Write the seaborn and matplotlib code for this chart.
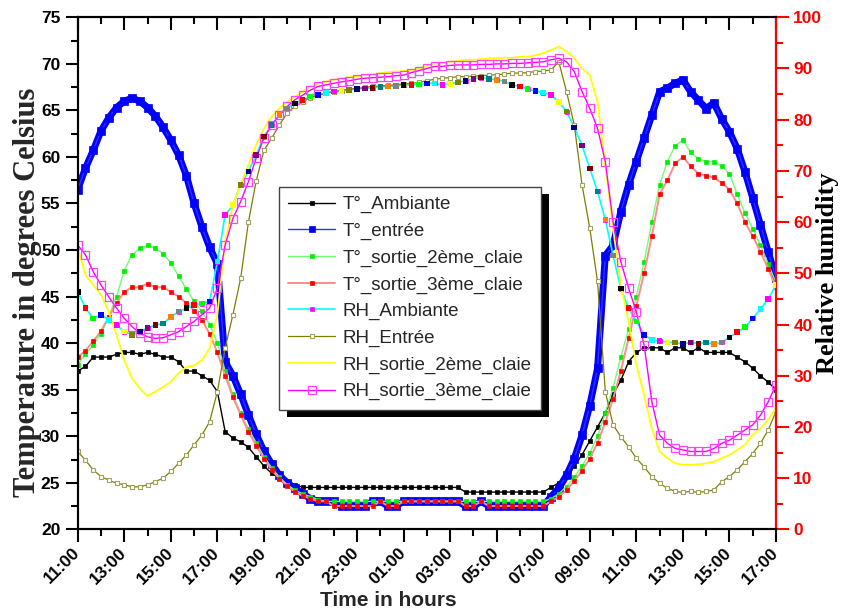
import numpy as np
import pandas as pd
import matplotlib
matplotlib.use("Agg")
import matplotlib.pyplot as plt
from matplotlib.ticker import MultipleLocator
from matplotlib.patches import Rectangle
import seaborn as sns

# ---------------------------------------------------------------- data
# readings every 20 minutes, from 11:00 on day 1 to 17:00 on day 2
elapsed_h = np.arange(91) / 3.0

tick_hours = list(range(0, 31, 2))
tick_labels = ["11:00", "13:00", "15:00", "17:00", "19:00", "21:00", "23:00", "01:00",
               "03:00", "05:00", "07:00", "09:00", "11:00", "13:00", "15:00", "17:00"]

# temperatures (deg C)
t_ambiante = [37.0, 37.5, 38.5, 38.5, 38.5, 38.8, 39.0, 39.0, 38.8, 39.0,
              38.8, 38.5, 38.5, 38.0, 37.0, 37.0, 36.5, 36.0, 34.8, 30.5,
              29.8, 29.4, 28.8, 27.8, 26.8, 26.0, 25.5, 25.0, 24.8, 24.5,
              24.5, 24.5, 24.5, 24.5, 24.5, 24.5, 24.5, 24.5, 24.5, 24.5,
              24.5, 24.5, 24.5, 24.5, 24.5, 24.5, 24.5, 24.5, 24.5, 24.5,
              24.0, 24.0, 24.0, 24.0, 24.0, 24.0, 24.0, 24.0, 24.0, 24.0,
              24.0, 24.5, 25.0, 25.8, 26.8, 28.0, 29.5, 31.0, 32.5, 34.5,
              36.0, 38.0, 39.0, 39.5, 39.5, 39.5, 39.0, 39.5, 39.5, 39.0,
              39.5, 39.0, 39.0, 39.0, 39.0, 38.5, 38.0, 37.3, 36.5, 35.8,
              35.0]
t_entree = [56.5, 58.8, 60.7, 62.8, 64.2, 65.3, 66.0, 66.3, 66.0, 65.3,
            64.4, 63.2, 61.8, 60.2, 58.0, 55.0, 52.5, 50.3, 48.5, 38.0,
            36.5, 34.5, 32.3, 30.2, 28.4, 27.0, 25.8, 25.0, 24.4, 23.8,
            23.3, 23.0, 23.0, 23.0, 22.5, 22.5, 22.5, 22.5, 23.0, 23.0,
            22.5, 22.5, 23.0, 23.0, 23.0, 23.0, 23.0, 23.0, 23.0, 23.0,
            22.5, 22.5, 23.0, 22.5, 22.5, 22.5, 22.5, 22.5, 22.5, 22.5,
            22.5, 23.5, 24.4, 25.8, 27.6, 30.1, 33.3, 37.3, 49.4, 50.5,
            54.1, 57.0, 59.5, 62.0, 64.5, 67.0, 67.4, 67.9, 68.3, 67.0,
            66.1, 65.2, 65.8, 64.1, 62.7, 60.9, 58.4, 55.6, 52.7, 49.8,
            47.0]
t_sortie_2 = [37.7, 38.8, 39.8, 41.0, 42.8, 45.0, 47.8, 49.5, 50.2, 50.5,
              50.2, 49.6, 48.6, 47.2, 45.8, 44.5, 43.4, 42.0, 40.0, 37.0,
              34.5, 32.5, 30.8, 29.3, 27.8, 26.6, 25.6, 24.8, 24.2, 23.8,
              23.5, 23.2, 23.0, 23.0, 23.0, 23.0, 23.0, 23.0, 23.0, 23.0,
              23.0, 23.0, 23.0, 23.0, 23.0, 23.0, 23.0, 23.0, 23.0, 23.0,
              23.0, 23.0, 23.0, 23.0, 23.0, 23.0, 23.0, 23.0, 23.0, 23.0,
              23.0, 23.3, 23.8, 24.6, 25.6, 26.8, 28.2, 30.0, 32.5, 35.2,
              38.5, 41.5, 45.0, 48.7, 53.0, 57.0, 59.5, 61.2, 61.8, 60.5,
              59.8, 59.5, 59.5, 59.0, 58.2, 56.0, 54.0, 52.3, 50.5, 48.5,
              46.5]
t_sortie_3 = [38.5, 39.2, 40.2, 41.3, 42.8, 44.3, 45.5, 46.0, 46.0, 46.4,
              46.0, 46.0, 45.5, 45.0, 44.3, 43.5, 42.5, 41.0, 39.0, 36.5,
              34.2, 32.3, 30.5, 29.0, 27.6, 26.4, 25.4, 24.7, 24.0, 23.6,
              23.3, 23.0, 23.0, 22.5, 22.5, 22.5, 22.5, 22.5, 22.5, 23.0,
              22.5, 22.5, 23.0, 23.0, 23.0, 23.0, 23.0, 23.0, 23.0, 23.0,
              22.5, 22.5, 23.0, 22.5, 22.5, 22.5, 22.5, 22.5, 22.5, 22.5,
              22.5, 23.0, 23.5, 24.2, 25.2, 26.3, 27.6, 29.3, 31.5, 34.0,
              37.0, 40.5, 44.0, 47.5, 51.5, 56.0, 57.5, 59.3, 60.0, 59.0,
              58.2, 58.0, 57.8, 57.2, 56.5, 55.0, 53.0, 51.5, 49.8, 48.0,
              46.0]

# relative humidity (%)
rh_ambiante = [46.4, 43.2, 41.2, 41.9, 40.9, 39.9, 38.6, 38.0, 38.6, 39.3,
               39.9, 40.2, 41.5, 42.5, 43.2, 43.8, 44.1, 44.5, 52.3, 61.4,
               63.3, 67.3, 69.9, 73.1, 76.7, 79.0, 80.9, 82.2, 83.2, 83.9,
               84.5, 84.8, 85.2, 85.5, 85.6, 85.8, 86.0, 86.1, 86.2, 86.4,
               86.5, 86.6, 86.8, 86.8, 86.9, 87.1, 87.1, 86.8, 87.0, 87.3,
               87.6, 88.0, 88.2, 88.0, 87.8, 87.5, 86.8, 86.5, 86.0, 85.6,
               85.3, 84.8, 83.5, 81.6, 78.5, 75.0, 70.5, 66.0, 60.5, 53.5,
               47.0, 43.2, 40.6, 38.0, 37.0, 36.8, 36.5, 36.5, 36.2, 36.5,
               36.3, 36.5, 36.2, 36.5, 37.5, 38.5, 39.5, 41.2, 43.0, 45.0,
               47.7]
rh_entree = [15.2, 13.5, 11.6, 10.3, 9.6, 9.0, 8.7, 8.3, 8.3, 8.7,
             9.3, 10.0, 11.3, 12.9, 14.5, 16.5, 18.4, 21.0, 26.9, 35.4,
             41.9, 49.0, 60.0, 68.0, 74.0, 76.4, 79.0, 81.3, 82.6, 83.5,
             84.3, 84.8, 85.2, 85.5, 85.7, 86.0, 86.1, 86.3, 86.5, 86.6,
             86.7, 86.8, 87.0, 87.1, 87.3, 87.6, 87.9, 88.1, 88.2, 88.4,
             88.4, 88.5, 88.6, 88.7, 88.8, 88.9, 89.1, 89.1, 89.2, 89.4,
             89.5, 89.7, 91.3, 85.5, 79.0, 67.3, 58.8, 48.4, 26.9, 20.4,
             18.1, 16.1, 13.9, 12.2, 10.3, 9.0, 8.0, 7.4, 7.2, 7.4,
             7.2, 7.4, 7.7, 9.3, 10.3, 11.6, 13.2, 14.8, 16.8, 19.4,
             23.0]
rh_sortie_2 = [55.0, 49.7, 47.7, 45.8, 42.5, 38.0, 33.0, 29.5, 27.5, 26.0,
               26.9, 27.8, 28.8, 30.5, 31.7, 32.0, 33.0, 35.4, 41.9, 56.2,
               63.3, 67.3, 71.2, 75.1, 78.3, 80.6, 82.2, 83.5, 84.5, 85.5,
               86.5, 87.1, 87.4, 87.8, 88.1, 88.3, 88.5, 88.7, 88.9, 89.1,
               89.3, 89.4, 89.5, 89.7, 90.0, 90.5, 91.0, 91.0, 91.3, 91.5,
               91.7, 91.7, 91.8, 92.0, 92.0, 92.1, 92.1, 92.3, 92.3, 92.6,
               93.0, 93.6, 94.3, 93.3, 92.0, 90.0, 88.7, 83.5, 71.2, 58.8,
               47.7, 40.6, 32.1, 26.2, 19.7, 15.2, 13.9, 12.9, 12.6, 12.6,
               12.7, 12.9, 13.2, 13.9, 14.5, 15.5, 16.5, 18.4, 19.7, 21.4,
               23.6]
rh_sortie_3 = [55.5, 53.6, 50.3, 47.7, 45.4, 43.2, 41.2, 39.6, 38.3, 37.6,
               37.3, 37.4, 38.0, 38.6, 39.6, 40.6, 41.9, 43.2, 47.1, 55.5,
               60.7, 64.0, 67.9, 72.5, 76.4, 79.0, 80.9, 82.6, 83.9, 84.8,
               85.8, 86.5, 86.8, 87.1, 87.4, 87.6, 87.9, 88.1, 88.2, 88.3,
               88.4, 88.6, 88.7, 89.2, 89.6, 90.0, 90.4, 90.4, 90.6, 90.7,
               90.7, 90.7, 90.8, 90.8, 90.9, 90.9, 91.0, 91.0, 91.1, 91.2,
               91.3, 91.7, 92.0, 91.3, 89.4, 85.5, 82.2, 78.3, 71.8, 60.1,
               52.3, 47.1, 42.5, 36.0, 24.9, 18.4, 16.8, 15.8, 15.5, 15.2,
               15.2, 15.2, 15.8, 16.8, 17.4, 18.4, 19.4, 20.4, 22.3, 24.9,
               28.2]

# point colours cycled on the ambient-humidity symbols
point_colors = ["#000000", "#ff0000", "#00ff00", "#0000ff", "#00ffff", "#ff00ff",
                "#ffff00", "#808000", "#000080", "#800080", "#800000", "#008080",
                "#ff8000", "#808080"]

# ---------------------------------------------------------------- style
sns.set_theme(style="ticks", rc={
    "axes.edgecolor": "black",
    "axes.linewidth": 1.5,
    "xtick.color": "black",
    "ytick.color": "black",
})
plt.rcParams["font.family"] = ["Liberation Sans", "DejaVu Sans"]

fig = plt.figure(figsize=(8.43, 6.13), dpi=100, facecolor="white")
ax = fig.add_axes([0.0922, 0.1365, 0.8283, 0.8353])
ax2 = ax.twinx()

# ---------------------------------------------------------------- temperatures
sns.lineplot(x=elapsed_h, y=t_ambiante, ax=ax, color="black", linewidth=1.0,
             marker="s", markersize=2.6, markerfacecolor="black",
             markeredgecolor="black", markeredgewidth=0.5, label="T°_Ambiante")
# dense inlet-temperature symbols merge into a solid band
sns.lineplot(x=elapsed_h, y=t_entree, ax=ax, color="#0000ff", linewidth=5.0,
             solid_capstyle="butt")
sns.lineplot(x=elapsed_h, y=t_entree, ax=ax, color="#3030ff", linewidth=1.0,
             marker="s", markersize=5.2, markerfacecolor="#0000ff",
             markeredgecolor="#0000ff", markeredgewidth=0.5, label="T°_entrée")
sns.lineplot(x=elapsed_h, y=t_sortie_2, ax=ax, color="#70ff70", linewidth=1.0,
             marker="s", markersize=3.2, markerfacecolor="#00ee00",
             markeredgecolor="#00ee00", markeredgewidth=0.5,
             label="T°_sortie_2ème_claie")
sns.lineplot(x=elapsed_h, y=t_sortie_3, ax=ax, color="#ff8c8c", linewidth=1.4,
             marker="s", markersize=3.2, markerfacecolor="#ff0000",
             markeredgecolor="#ff0000", markeredgewidth=0.5,
             label="T°_sortie_3ème_claie")

# ---------------------------------------------------------------- humidity
sns.lineplot(x=elapsed_h, y=rh_ambiante, ax=ax2, color="#00ffff", linewidth=1.2,
             marker="s", markersize=2.6, markerfacecolor="#ff00ff",
             markeredgecolor="#ff00ff", markeredgewidth=0.5, label="RH_Ambiante")
color_key = [f"c{i % len(point_colors)}" for i in range(len(elapsed_h))]
sns.scatterplot(x=elapsed_h, y=rh_ambiante, ax=ax2, hue=color_key,
                palette={f"c{i}": c for i, c in enumerate(point_colors)},
                marker="s", s=16, linewidth=0, legend=False, zorder=3)
sns.lineplot(x=elapsed_h, y=rh_entree, ax=ax2, color="#808000", linewidth=0.9,
             marker="s", markersize=3.2, markerfacecolor="white",
             markeredgecolor="#a0a060", markeredgewidth=0.8, label="RH_Entrée")
sns.lineplot(x=elapsed_h, y=rh_sortie_2, ax=ax2, color="#ffff00", linewidth=1.3,
             label="RH_sortie_2ème_claie")
sns.lineplot(x=elapsed_h, y=rh_sortie_3, ax=ax2, color="#ff00ff", linewidth=1.0,
             marker="s", markersize=5.2, markerfacecolor="none",
             markeredgecolor="#ff40ff", markeredgewidth=0.9,
             label="RH_sortie_3ème_claie")

# ---------------------------------------------------------------- axes
ax.set_xlim(0, 30)
ax.set_ylim(20, 75)
ax2.set_ylim(0, 100)

ax.set_xticks(tick_hours)
ax.set_xticklabels(tick_labels, rotation=45, ha="right", va="center",
                   rotation_mode="anchor", fontweight="bold", fontsize=12.5)
ax.xaxis.set_minor_locator(MultipleLocator(1))
ax.set_yticks(np.arange(20, 76, 5))
ax.yaxis.set_minor_locator(MultipleLocator(2.5))
for lbl in ax.get_yticklabels():
    lbl.set_fontweight("bold")
    lbl.set_fontsize(12.5)

ax.tick_params(axis="both", which="major", direction="out", length=9, width=1.5,
               top=False, right=False)
ax.tick_params(axis="both", which="minor", direction="out", length=5, width=1.5,
               top=False, right=False)
ax.tick_params(axis="x", which="major", pad=6)

# inward ticks along the top edge, carried by the twin axes
ax2.xaxis.set_visible(True)
ax2.tick_params(axis="x", which="both", direction="in", width=1.5,
                top=True, bottom=False, labeltop=False, labelbottom=False)
ax2.tick_params(axis="x", which="major", length=9)
ax2.tick_params(axis="x", which="minor", length=5)
ax2.set_xlabel("")

ax2.set_yticks(np.arange(0, 101, 10))
ax2.yaxis.set_minor_locator(MultipleLocator(5))
ax2.tick_params(axis="y", which="major", direction="out", length=9, width=1.5,
                colors="red", labelsize=12.5)
ax2.tick_params(axis="y", which="minor", direction="out", length=5, width=1.5,
                colors="red")
for lbl in ax2.get_yticklabels():
    lbl.set_fontweight("bold")
ax2.spines["right"].set_color("red")
ax2.spines["right"].set_linewidth(1.5)

ax.set_xlabel("Time in hours", fontsize=15, fontweight="bold",
              family=["Liberation Sans Narrow", "Liberation Sans"])
ax.xaxis.set_label_coords(0.445, -0.121)
ax.set_ylabel("Temperature in degrees Celsius", fontsize=22, fontweight="bold",
              family=["Liberation Serif", "DejaVu Serif"])
ax.yaxis.set_label_coords(-0.051, 0.462)
ax2.set_ylabel("Relative humidity", fontsize=19, fontweight="bold", color="black",
               family=["Liberation Serif", "DejaVu Serif"])
ax2.yaxis.set_label_coords(1.057, 0.5)

# ---------------------------------------------------------------- legend
handles, labels = ax.get_legend_handles_labels()
h2, l2 = ax2.get_legend_handles_labels()
for a in (ax, ax2):
    if a.get_legend() is not None:
        a.get_legend().remove()
leg = ax2.legend(handles + h2, labels + l2, loc="upper left",
                 bbox_to_anchor=(0.288, 0.669), borderaxespad=0, fontsize=13.5,
                 frameon=True, fancybox=False, framealpha=1, facecolor="white",
                 edgecolor="#444444", labelspacing=0.5, handlelength=2.5,
                 handletextpad=0.4, borderpad=0.5, numpoints=1)
leg.get_frame().set_linewidth(1.0)
leg.set_zorder(10)
# smaller inlet symbol in the key
leg.legend_handles[1].set_markersize(4.0)

fig.canvas.draw()
bb = leg.get_window_extent()
shadow = Rectangle((bb.x0 + 8, bb.y0 - 7), bb.width, bb.height, transform=None,
                   facecolor="black", edgecolor="none", zorder=9.5, clip_on=False)
ax2.add_artist(shadow)

fig.savefig("out.png", dpi=100, facecolor="white")
